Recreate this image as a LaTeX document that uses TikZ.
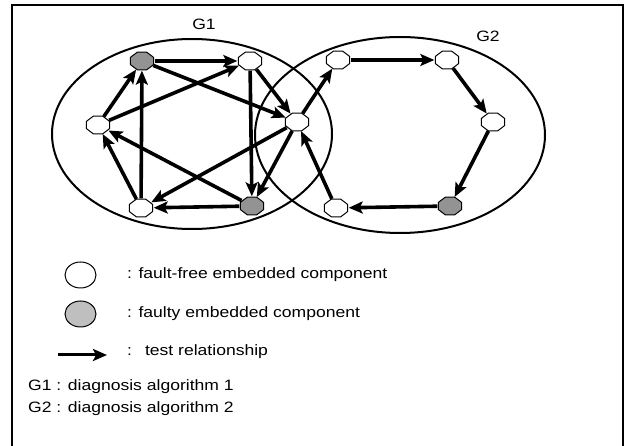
\documentclass[tikz,border=0pt]{standalone}
\usepackage{fontspec}
\setmainfont[FakeStretch=1.17]{Liberation Sans}
\usetikzlibrary{arrows.meta,shapes.geometric}
\newcommand{\octvertex}[3]{%
  \node[vtx] (#1) at (#2) {};
  \draw[octline, fill=#3] (#1.center) +(22.5:12.5pt and 9.5pt) -- +(67.5:12.5pt and 9.5pt)
    -- +(112.5:12.5pt and 9.5pt) -- +(157.5:12.5pt and 9.5pt) -- +(202.5:12.5pt and 9.5pt)
    -- +(247.5:12.5pt and 9.5pt) -- +(292.5:12.5pt and 9.5pt) -- +(337.5:12.5pt and 9.5pt) -- cycle;
}
\begin{document}
\begin{tikzpicture}[x=1pt,y=-1pt,
  vtx/.style={ellipse, minimum width=25pt, minimum height=19pt, inner sep=0pt, draw=none},
  octline/.style={line width=1pt, draw=black},
  tedge/.style={line width=3.6pt, -{Stealth[length=14pt,width=12pt,inset=3pt]}},
  group/.style={line width=2pt},
  lbl/.style={inner sep=0pt, font=\fontsize{15}{17}\selectfont}]
\useasboundingbox (0,0) rectangle (625,446);
% frame
\draw[line width=2pt] (12,446) -- (12,5) -- (623,5) -- (623,446);
% groups
\draw[group] (192,134) ellipse [x radius=140pt, y radius=95pt];
\draw[group] (400,135) ellipse [x radius=145pt, y radius=98pt];
\node[lbl, anchor=base] (g1) at (204,30) {G1};
\node[lbl, anchor=base] (g2) at (488,42) {G2};
% vertices
\def\gr{gray!85}
\octvertex{A}{142,61}{\gr}
\octvertex{B}{250,61}{white}
\octvertex{C}{297,122}{white}
\octvertex{D}{252,206}{\gr}
\octvertex{E}{141,208}{white}
\octvertex{F}{98,125}{white}
\octvertex{P}{338,60}{white}
\octvertex{Q}{447,60}{white}
\octvertex{R}{493,122}{white}
\octvertex{S}{450,206}{\gr}
\octvertex{T}{336,208}{white}
% G1 test relations
\draw[tedge] (A) -- (B);
\draw[tedge] (A) -- (C);
\draw[tedge] (B) -- (C);
\draw[tedge] (B) -- (D);
\draw[tedge] (C) -- (D);
\draw[tedge] (F) -- (B);
\draw[tedge] (F) -- (A);
\draw[tedge] (E) -- (A);
\draw[tedge] (E) -- (F);
\draw[tedge] (D) -- (E);
\draw[tedge] (D) -- (F);
\draw[tedge] (C) -- (E);
% G2 test relations
\draw[tedge] (C) -- (P);
\draw[tedge] (P) -- (Q);
\draw[tedge] (Q) -- (R);
\draw[tedge] (R) -- (S);
\draw[tedge] (S) -- (T);
\draw[tedge] (T) -- (C);
% legend
\node[ellipse, draw, line width=1pt, fill=white, minimum width=31pt, minimum height=26pt] (lw) at (80.5,275) {};
\node[ellipse, draw, line width=1pt, fill=gray!50, minimum width=31pt, minimum height=26pt] (lg) at (80.5,314) {};
\coordinate (la1) at (58,355);
\coordinate (la2) at (107,355);
\draw[tedge, line width=3pt] (la1) -- (la2);
\node[lbl, anchor=base west] (t1) at (127,279) {: fault-free embedded component};
\node[lbl, anchor=base west] (t2) at (127,318) {: faulty embedded component};
\node[lbl, anchor=base west] (t3) at (127,356) {:\hspace{13pt}test relationship};
\node[lbl, anchor=base west] (t4) at (28,391) {G1 : diagnosis algorithm 1};
\node[lbl, anchor=base west] (t5) at (28,413) {G2 : diagnosis algorithm 2};
\end{tikzpicture}
\end{document}
